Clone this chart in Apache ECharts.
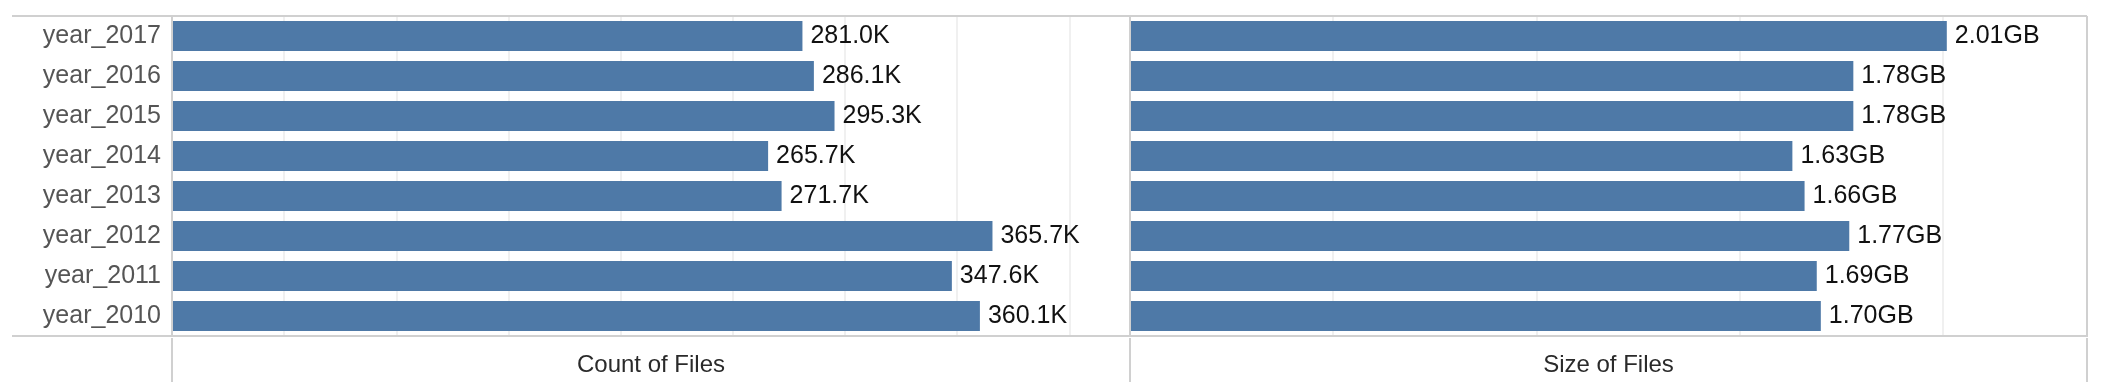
<!DOCTYPE html>
<html>
<head>
<meta charset="utf-8">
<script src="https://cdn.jsdelivr.net/npm/echarts@6/dist/echarts.min.js"></script>
<style>
  html, body { margin: 0; padding: 0; background: #fff; }
  #chart { width: 2106px; height: 386px; }
</style>
</head>
<body>
<div id="chart"></div>
<script>
const categories = ['year_2017', 'year_2016', 'year_2015', 'year_2014', 'year_2013', 'year_2012', 'year_2011', 'year_2010'];
const countOfFilesK = [281.0, 286.1, 295.3, 265.7, 271.7, 365.7, 347.6, 360.1];
const sizeOfFilesGB = [2.01, 1.78, 1.78, 1.63, 1.66, 1.77, 1.69, 1.70];
const panelTitles = ['Count of Files', 'Size of Files'];

const chart = echarts.init(document.getElementById('chart'), null, { renderer: 'canvas' });

const FONT = '"Liberation Sans", Arial, sans-serif';
const BAR = '#4e79a7';
const BORDER = '#d0d0d0';
const GRIDC = '#f0f0f0';

const L1 = 172, R1 = 1130, R2 = 2087, TOP = 16, BOT = 336;

function line(x1, y1, x2, y2, w) {
  return { type: 'line', shape: { x1, y1, x2, y2 }, style: { stroke: BORDER, lineWidth: w || 2 }, silent: true, z: 10 };
}

const option = {
  animation: false,
  backgroundColor: '#fff',
  grid: [
    { left: L1, right: 2106 - R1, top: TOP, height: BOT - TOP, containLabel: false },
    { left: R1, right: 2106 - R2, top: TOP, height: BOT - TOP, containLabel: false }
  ],
  xAxis: [
    {
      gridIndex: 0, type: 'value', min: 0, max: 427, interval: 50,
      axisLine: { show: false }, axisTick: { show: false }, axisLabel: { show: false },
      splitLine: { show: true, lineStyle: { color: GRIDC, width: 2 } },
      name: panelTitles[0], nameLocation: 'middle', nameGap: 17,
      nameTextStyle: { fontFamily: FONT, fontSize: 24, color: '#2a2a2a', fontWeight: 'normal' }
    },
    {
      gridIndex: 1, type: 'value', min: 0, max: 2.355, interval: 0.5,
      axisLine: { show: false }, axisTick: { show: false }, axisLabel: { show: false },
      splitLine: { show: true, lineStyle: { color: GRIDC, width: 2 } },
      name: panelTitles[1], nameLocation: 'middle', nameGap: 17,
      nameTextStyle: { fontFamily: FONT, fontSize: 24, color: '#2a2a2a', fontWeight: 'normal' }
    }
  ],
  yAxis: [
    {
      gridIndex: 0, type: 'category', data: categories, inverse: true,
      axisLine: { show: false }, axisTick: { show: false },
      axisLabel: { show: true, margin: 11, fontFamily: FONT, fontSize: 25, color: '#555' }
    },
    {
      gridIndex: 1, type: 'category', data: categories, inverse: true,
      axisLine: { show: false }, axisTick: { show: false }, axisLabel: { show: false }
    }
  ],
  series: [
    {
      type: 'bar', xAxisIndex: 0, yAxisIndex: 0, data: countOfFilesK,
      barCategoryGap: '25%', itemStyle: { color: BAR },
      label: { show: true, position: 'right', distance: 8, fontFamily: FONT, fontSize: 25, color: '#111',
        formatter: p => p.value.toFixed(1) + 'K' }
    },
    {
      type: 'bar', xAxisIndex: 1, yAxisIndex: 1, data: sizeOfFilesGB,
      barCategoryGap: '25%', itemStyle: { color: BAR },
      label: { show: true, position: 'right', distance: 8, fontFamily: FONT, fontSize: 25, color: '#111',
        formatter: p => p.value.toFixed(2) + 'GB' }
    }
  ],
  graphic: [
    line(12, TOP, R2, TOP, 2),
    line(12, BOT, R2 + 1, BOT, 2),
    line(L1, TOP, L1, BOT, 2),
    line(R1, TOP, R1, BOT, 2),
    line(R2, TOP, R2, BOT, 2),
    line(L1, BOT + 2, L1, 382, 2),
    line(R1, BOT + 2, R1, 382, 2),
    line(R2, BOT + 2, R2, 382, 2)
  ]
};

chart.setOption(option);
</script>
</body>
</html>
